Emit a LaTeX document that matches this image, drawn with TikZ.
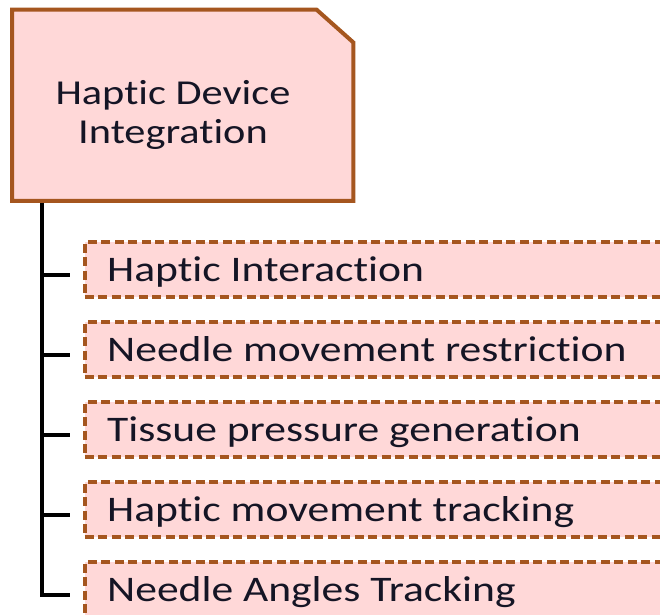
\documentclass[tikz,border=0pt]{standalone}
\usepackage{fontspec}
\setmainfont{Carlito}[FakeStretch=1.21, Ligatures=NoCommon, RawFeature={-liga}]
\definecolor{boxfill}{HTML}{FFD8D8}
\definecolor{boxline}{HTML}{A5561F}
\definecolor{txt}{HTML}{151525}
\begin{document}
\begin{tikzpicture}[x=1pt,y=-1pt,
  topbox/.style={minimum width=341pt, minimum height=191pt, inner sep=0pt, anchor=north west},
  subbox/.style={draw=boxline, fill=boxfill, line width=4pt, dash pattern=on 9pt off 4.5pt,
    minimum width=640pt, minimum height=55pt, inner sep=0pt, anchor=north west},
  lbl/.style={font=\fontsize{36}{40}\selectfont, text=txt, inner sep=0pt, anchor=base west},
  toplbl/.style={font=\fontsize{35}{39}\selectfont, text=txt, align=center, inner sep=0pt},
  conn/.style={line width=4pt, black}]
\useasboundingbox (0,0) rectangle (660,614);
\clip (0,0) rectangle (660,614);
% top box
\node[topbox] (top) at (12,9.5) {};
\draw[draw=boxline, fill=boxfill, line width=4pt, line join=miter]
  (top.north west) -- ([xshift=-37pt]top.north east) -- ([yshift=-33pt]top.north east)
  -- (top.south east) -- (top.south west) -- cycle;
\node[toplbl] (toptext) at (173,115) {Haptic Device\\Integration};
% sub boxes
\foreach \i/\y/\t in {1/240/Haptic Interaction,
                      2/320/Needle movement restriction,
                      3/400/Tissue pressure generation,
                      4/480/Haptic movement tracking,
                      5/560/Needle Angles Tracking}{
  \node[subbox] (b\i) at (82.5,\y) {};
  \node[lbl] (t\i) at ([xshift=24.5pt, yshift=-41pt]b\i.north west) {\t};
}
% connectors
\coordinate (trunk) at ([xshift=30pt, yshift=-2pt]top.south west);
\foreach \i in {1,2,3,4}{
  \draw[conn] ([yshift=-5pt]b\i.west -| trunk) -- ([xshift=-12.5pt, yshift=-5pt]b\i.west);
}
\draw[conn, line join=miter] (trunk) |- ([xshift=-12.5pt, yshift=-5pt]b5.west);
\end{tikzpicture}
\end{document}
